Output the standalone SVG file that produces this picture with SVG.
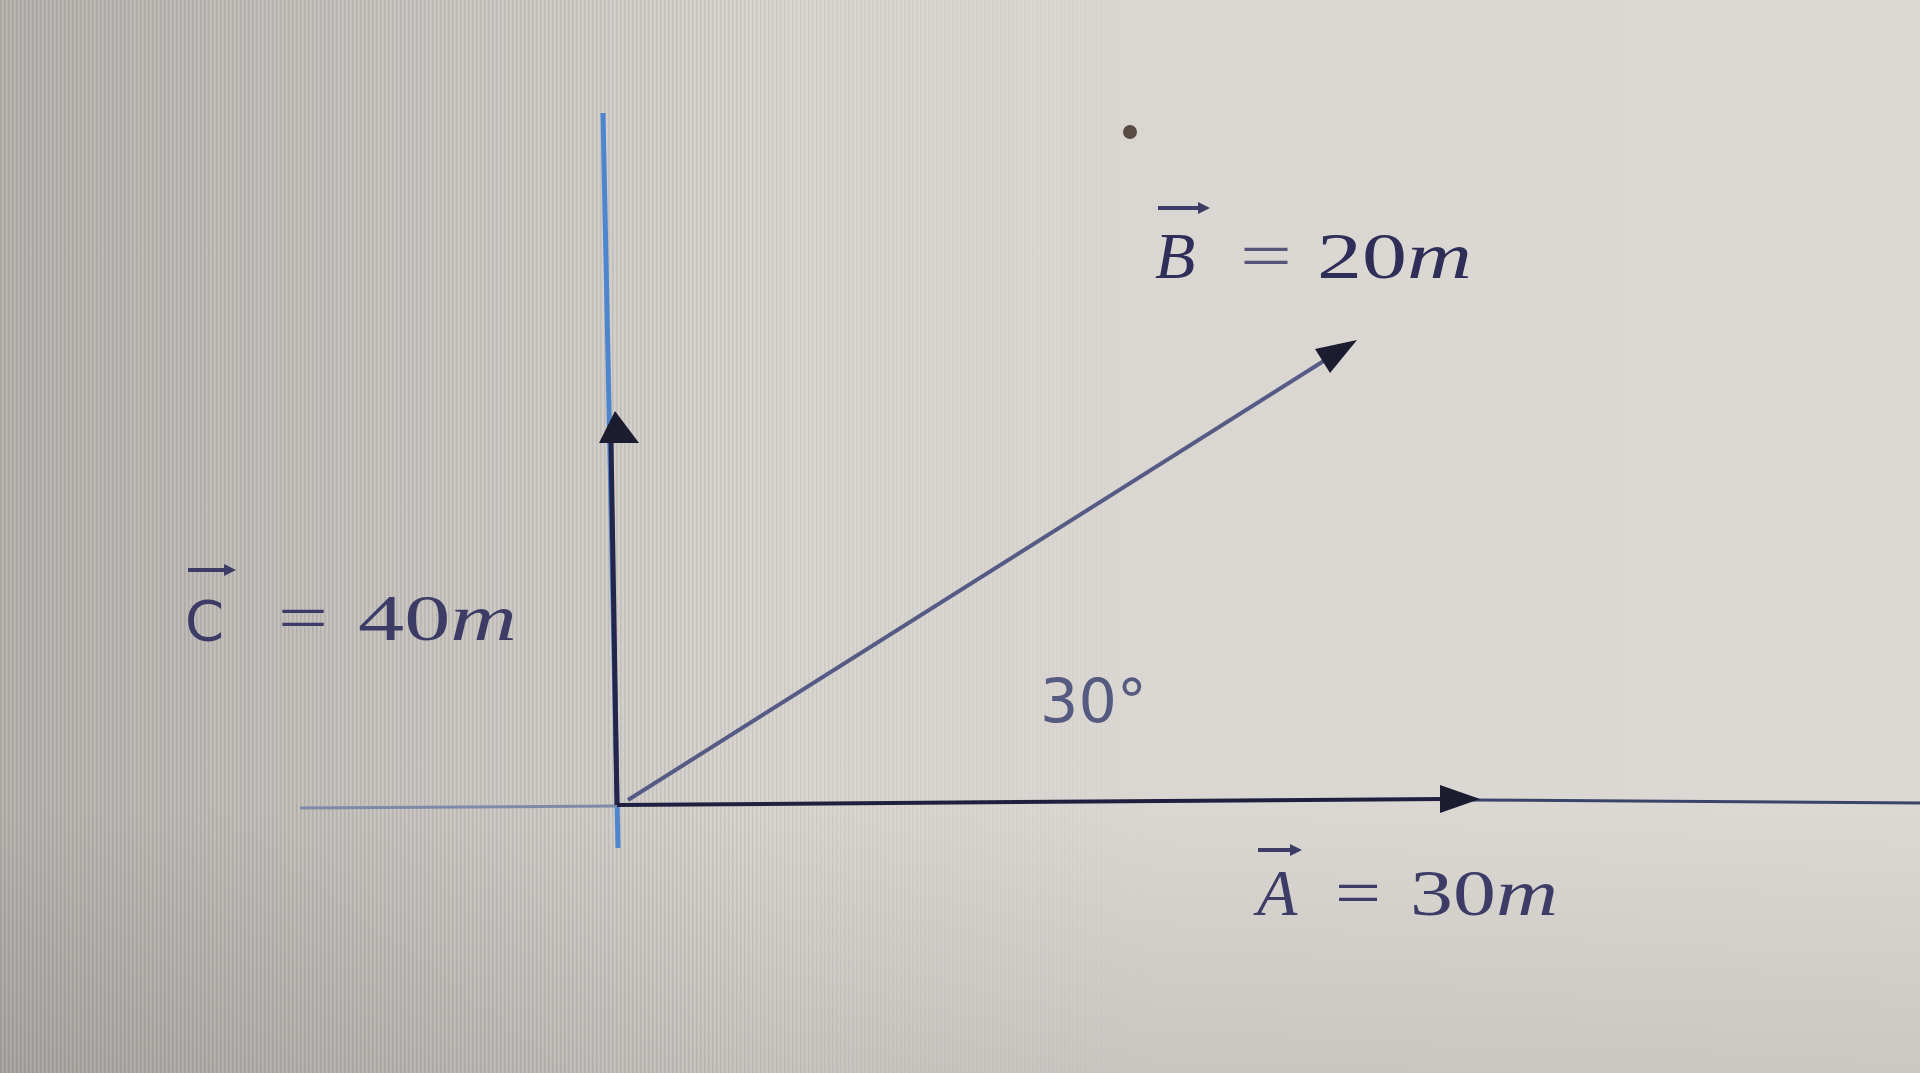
<svg xmlns="http://www.w3.org/2000/svg" width="1920" height="1073" viewBox="0 0 1920 1073">
<style>
.lbl{font-family:"Liberation Serif","DejaVu Serif",serif;font-size:66px;fill:#3c3c66}
.it{font-style:italic}
.sans{font-family:"DejaVu Sans","Liberation Sans",sans-serif}
.vec{stroke:#3c3c66;stroke-width:4;fill:none}
</style>
<defs>
<linearGradient id="bg" x1="0" y1="0" x2="1" y2="0">
<stop offset="0" stop-color="#b8b4b0"/>
<stop offset="0.2" stop-color="#c8c4c0"/>
<stop offset="0.4" stop-color="#d9d6d1"/>
<stop offset="1" stop-color="#dcd9d4"/>
</linearGradient>
<linearGradient id="bgv" x1="0" y1="0" x2="0" y2="1">
<stop offset="0" stop-color="#000" stop-opacity="0"/>
<stop offset="0.75" stop-color="#000" stop-opacity="0"/>
<stop offset="1" stop-color="#000" stop-opacity="0.08"/>
</linearGradient>
<pattern id="stripes" width="4" height="4" patternUnits="userSpaceOnUse">
<rect x="0" y="0" width="1.5" height="4" fill="#8a8480" fill-opacity="0.35"/>
</pattern>
<linearGradient id="fade" x1="0" y1="0" x2="1" y2="0">
<stop offset="0" stop-color="#fff"/>
<stop offset="0.35" stop-color="#fff" stop-opacity="0.6"/>
<stop offset="0.6" stop-color="#fff" stop-opacity="0"/>
</linearGradient>
<mask id="m"><rect width="1920" height="1073" fill="url(#fade)"/></mask>
</defs>
<g id="background">
<rect width="1920" height="1073" fill="url(#bg)"/>
<rect width="1920" height="1073" fill="url(#stripes)" mask="url(#m)"/>
<rect width="1920" height="1073" fill="url(#bgv)"/>
</g>
<g id="connectors">
<line x1="603" y1="113" x2="618" y2="848" stroke="#4d86cf" stroke-width="5"/>
<line x1="300" y1="808" x2="617" y2="806" stroke="#7f8aa8" stroke-width="3"/>
<line x1="1470" y1="800" x2="1920" y2="803" stroke="#3a4468" stroke-width="3"/>
<line id="vecC" x1="617" y1="805" x2="611" y2="440" stroke="#23254a" stroke-width="5"/>
<polygon points="615,411 599,443 639,443" fill="#1c1c30"/>
<line id="vecA" x1="617" y1="805" x2="1445" y2="799" stroke="#1f2040" stroke-width="4"/>
<polygon points="1480,799 1440,785 1440,813" fill="#1c1c30"/>
<line id="vecB" x1="628" y1="800" x2="1330" y2="357" stroke="#555b85" stroke-width="4"/>
<polygon points="1357,340 1330,373 1315,349" fill="#1c1c30"/>
</g>
<g id="labelB">
<line class="vec" x1="1158" y1="208" x2="1200" y2="208"/>
<polygon points="1210,208 1198,202 1198,214" fill="#3c3c66"/>
<text class="lbl it" x="1155" y="278" style="fill:#2e2e58">B</text>
<text class="lbl" x="1240" y="278" textLength="52" lengthAdjust="spacingAndGlyphs" style="fill:#55557a">=</text>
<text class="lbl" x="1317" y="278" textLength="155" lengthAdjust="spacingAndGlyphs" style="fill:#2e2e58">20<tspan class="it">m</tspan></text>
</g>
<g id="labelC">
<line class="vec" x1="188" y1="570" x2="226" y2="570"/>
<polygon points="236,570 224,564 224,576" fill="#3c3c66"/>
<text class="lbl sans" x="185" y="640" style="font-size:56px">C</text>
<text class="lbl" x="278" y="640" textLength="50" lengthAdjust="spacingAndGlyphs">=</text>
<text class="lbl" x="358" y="640" textLength="159" lengthAdjust="spacingAndGlyphs">40<tspan class="it">m</tspan></text>
</g>
<g id="angle">
<text class="lbl sans" x="1040" y="722" textLength="107" lengthAdjust="spacingAndGlyphs" style="font-size:60px;fill:#555a80">30°</text>
</g>
<g id="labelA">
<line class="vec" x1="1258" y1="850" x2="1292" y2="850"/>
<polygon points="1302,850 1290,844 1290,856" fill="#3c3c66"/>
<text class="lbl it" x="1257" y="915">A</text>
<text class="lbl" x="1335" y="915" textLength="46" lengthAdjust="spacingAndGlyphs">=</text>
<text class="lbl" x="1410" y="915" textLength="148" lengthAdjust="spacingAndGlyphs">30<tspan class="it">m</tspan></text>
</g>
<circle cx="1130" cy="132" r="7" fill="#5a4a44"/>
</svg>
